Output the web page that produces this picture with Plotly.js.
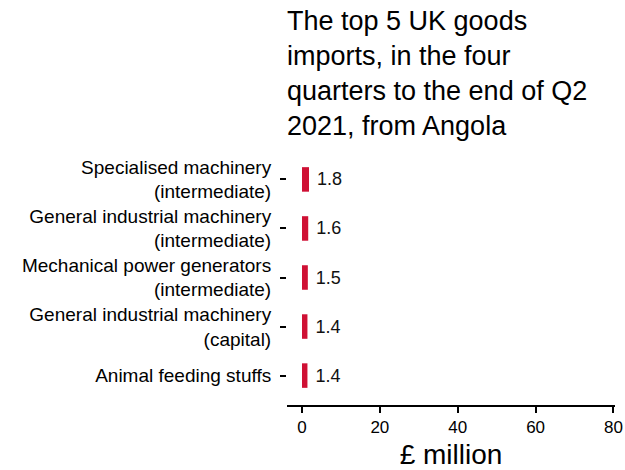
<!DOCTYPE html>
<html>
<head>
<meta charset="utf-8">
<script src="https://cdn.plot.ly/plotly-3.0.1.min.js"></script>
<style>html,body{margin:0;padding:0;background:#fff;}#chart{width:625px;height:470px;}</style>
</head>
<body>
<div id="chart"></div>
<script>
const categories = [
  "Specialised machinery<br>(intermediate)",
  "General industrial machinery<br>(intermediate)",
  "Mechanical power generators<br>(intermediate)",
  "General industrial machinery<br>(capital)",
  "Animal feeding stuffs"
];
const values = [1.8, 1.6, 1.5, 1.4, 1.4];
const valueLabels = ["1.8", "1.6", "1.5", "1.4", "1.4"];
const xTicks = [0, 20, 40, 60, 80];

const font = "Liberation Sans, Arial, sans-serif";

const trace = {
  type: "bar",
  orientation: "h",
  x: values,
  y: categories,
  width: 0.5,
  marker: {color: "#cf1034"},
  text: valueLabels.map(v => "\u00a0" + v),
  textposition: "outside",
  textfont: {family: font, size: 18, color: "#111"},
  cliponaxis: false,
  hoverinfo: "none"
};

const layout = {
  width: 625,
  height: 470,
  margin: {l: 287, r: 10, t: 150, b: 65},
  paper_bgcolor: "#fff",
  plot_bgcolor: "#fff",
  showlegend: false,
  font: {family: font, color: "#000"},
  title: {
    text: "The top 5 UK goods<br>imports, in the four<br>quarters to the end of Q2<br>2021, from Angola",
    font: {family: font, size: 27, color: "#000"},
    xref: "paper", x: 0, xanchor: "left",
    yref: "container", y: 0.936, yanchor: "top"
  },
  xaxis: {
    range: [-3.85, 80.4],
    tickvals: xTicks,
    ticktext: xTicks.map(String),
    showgrid: false,
    zeroline: false,
    showline: true,
    linecolor: "#000",
    linewidth: 2,
    ticks: "outside",
    ticklen: 6,
    tickwidth: 2,
    tickcolor: "#000",
    tickfont: {family: font, size: 17, color: "#000"},
    title: {text: "£ million", font: {family: font, size: 28, color: "#000"}, standoff: 15},
    fixedrange: true
  },
  yaxis: {
    type: "category",
    range: [4.6, -0.6],
    showgrid: false,
    zeroline: false,
    showline: false,
    ticks: "outside",
    ticklen: 6,
    tickwidth: 2,
    tickcolor: "#000",
    ticklabelstandoff: 5,
    tickfont: {family: font, size: 19, color: "#000"},
    fixedrange: true
  }
};

Plotly.newPlot("chart", [trace], layout, {displayModeBar: false, staticPlot: true});
</script>
</body>
</html>
